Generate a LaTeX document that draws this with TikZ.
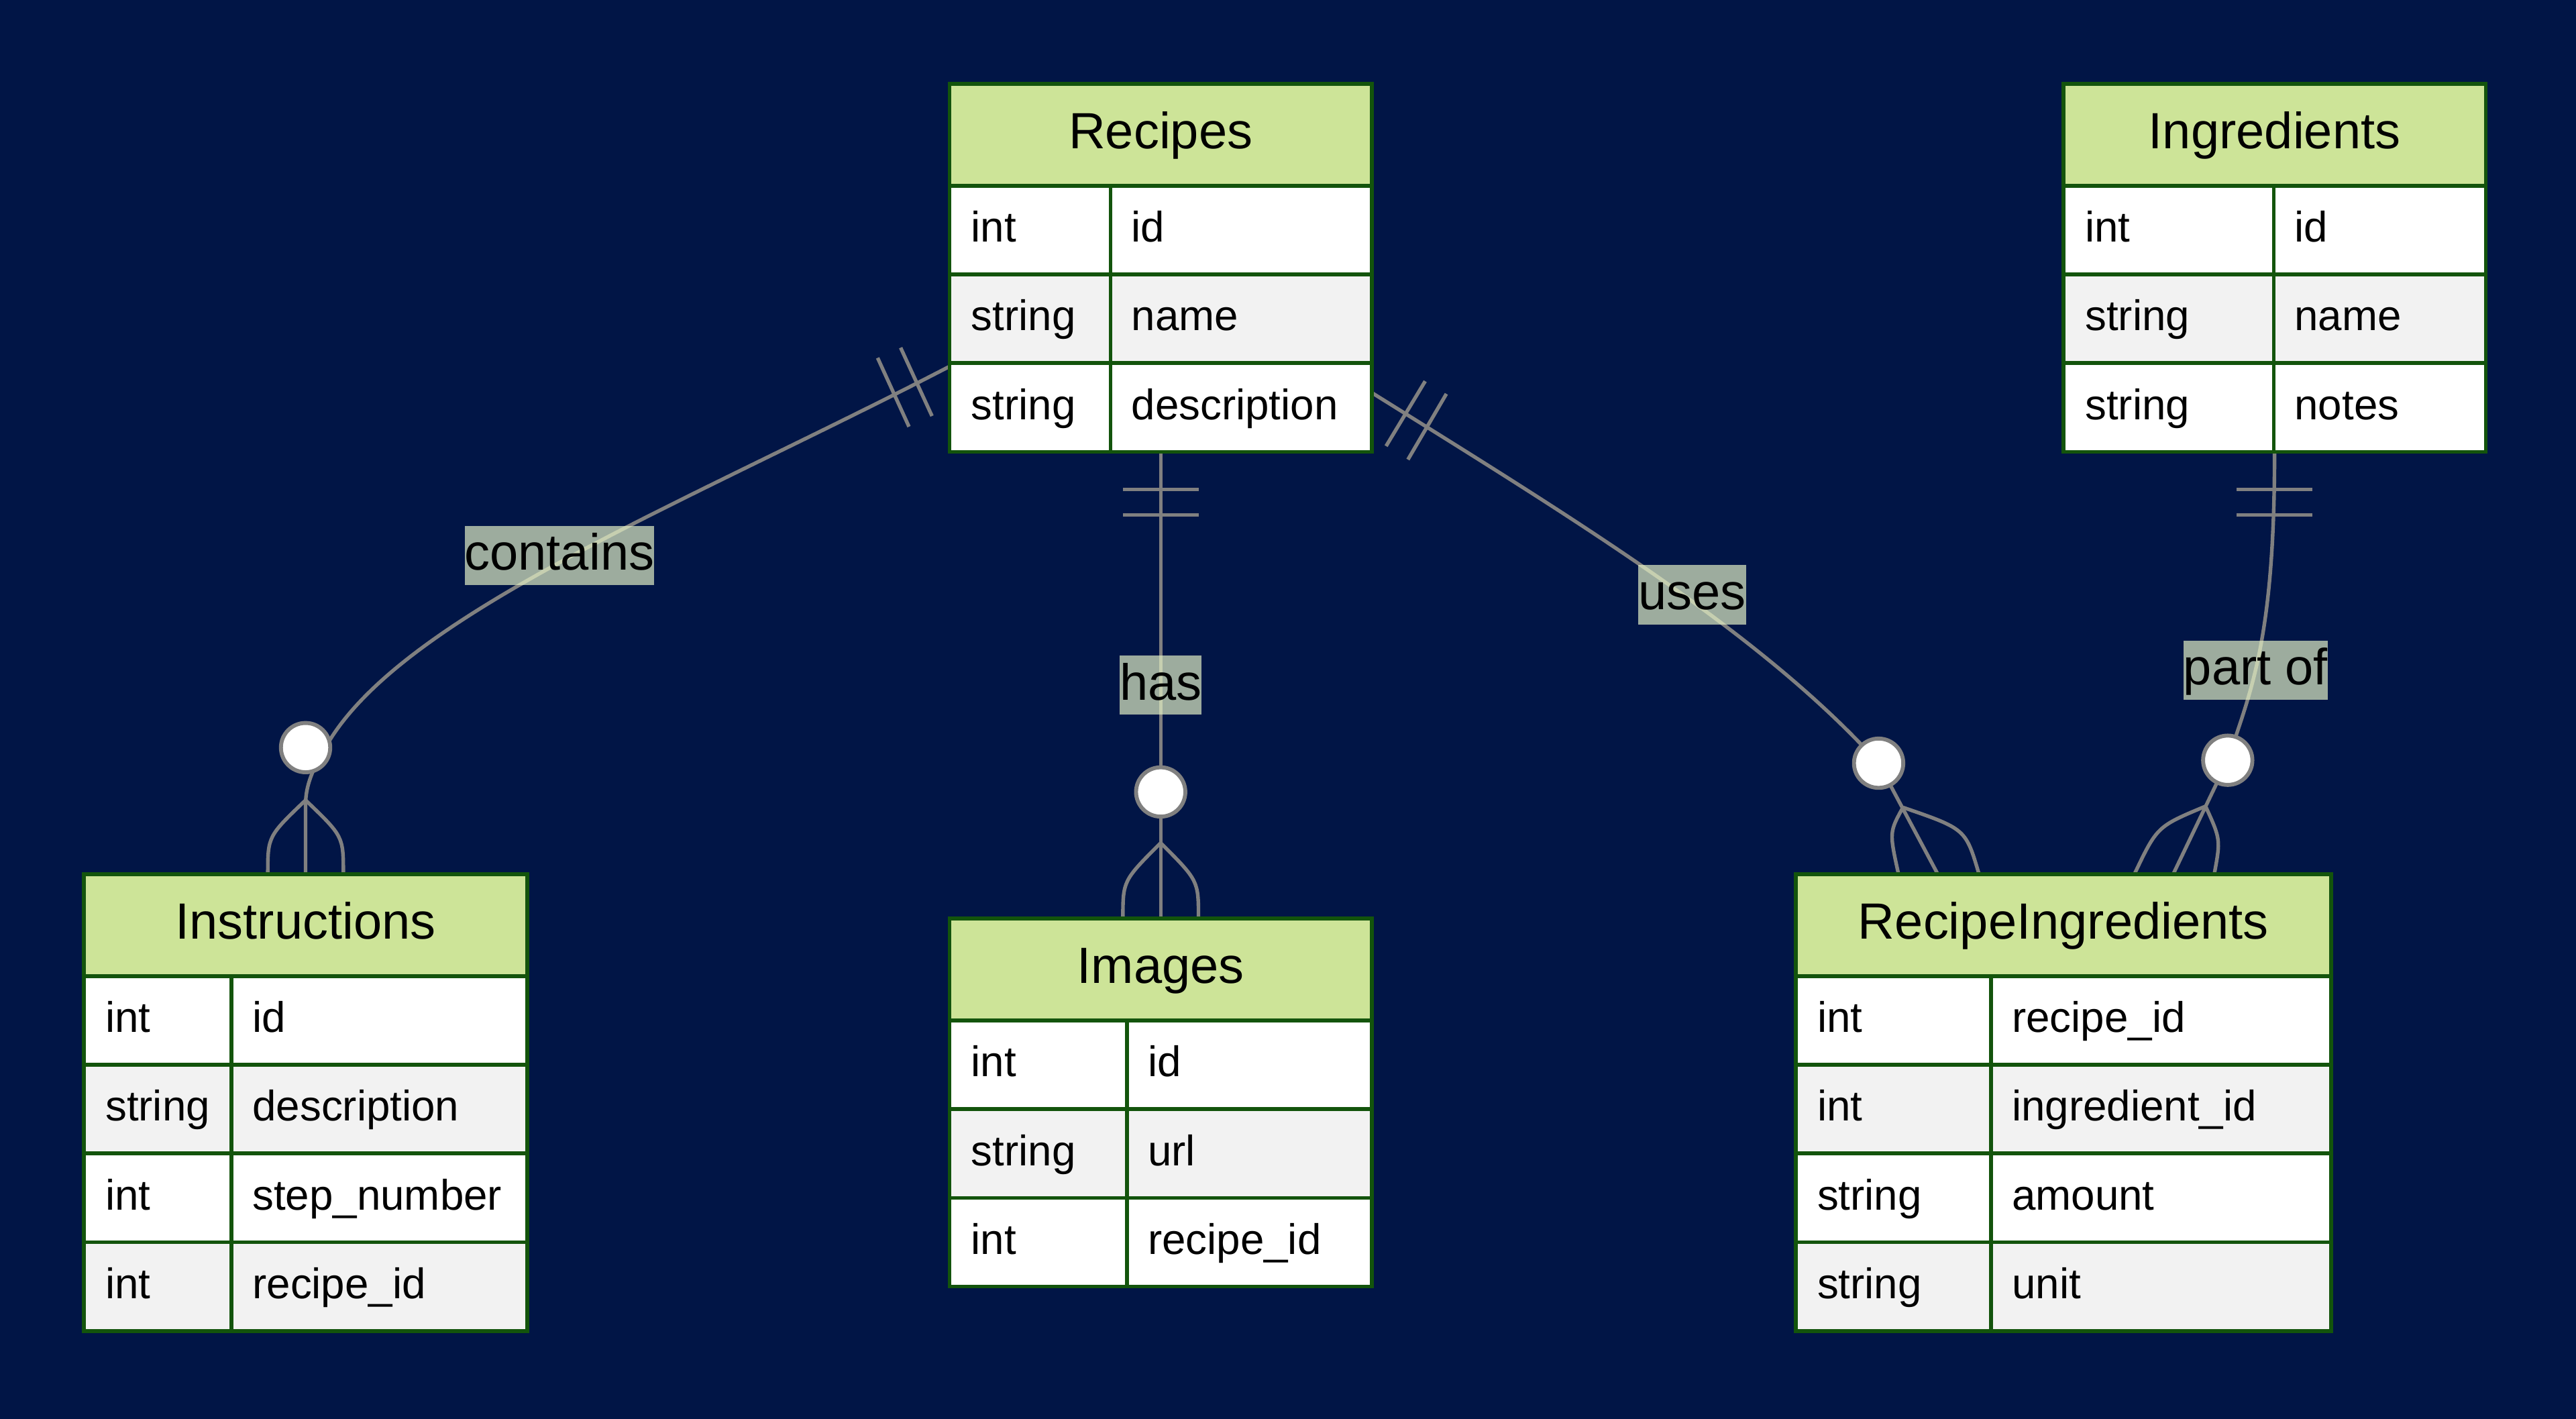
\documentclass[tikz,border=0pt]{standalone}
\usepackage{fontspec}
\setmainfont{Liberation Sans}
\usetikzlibrary{calc}
\pgfdeclarelayer{back}
\pgfdeclarelayer{edges}
\pgfdeclarelayer{marks}
\pgfsetlayers{back,edges,marks,main}
\definecolor{bgnavy}{RGB}{1,21,70}
\definecolor{erhead}{RGB}{205,228,152}
\definecolor{erborder}{RGB}{19,84,12}
\definecolor{rowgray}{RGB}{242,242,242}
\definecolor{linegray}{RGB}{128,128,128}
\definecolor{labelfill}{RGB}{232,245,200}
\tikzset{
  erline/.style={draw=erborder, line width=2.3pt},
  erbox/.style={draw=erborder, line width=2.3pt, inner sep=0pt, outer sep=0pt, fill=none},
  titletext/.style={font=\fontsize{31}{36}\selectfont, text=black, inner sep=0pt, anchor=base},
  attrtext/.style={font=\fontsize{26}{30}\selectfont, text=black, inner sep=0pt, anchor=base west},
  conn/.style={draw=linegray, line width=2.2pt},
  zerocirc/.style={circle, draw=linegray, line width=2.4pt, fill=white, minimum size=30pt, inner sep=0pt},
  elabel/.style={fill=labelfill, fill opacity=0.68, text opacity=1, text=black,
    font=\fontsize{31}{36}\selectfont, inner xsep=0pt, inner ysep=0pt,
    text height=26.9pt, text depth=9.1pt},
}
% #1 name, #2 left, #3 top, #4 width, #5 divider x, #6 height, #7 title, #8 rows
\newcommand{\erentity}[8]{%
  \fill[erhead] (#2,#3) rectangle ({#2+#4},{#3+62});
  \node[titletext] (#1-title) at ({#2+#4/2},{#3+39.6}) {#7};
  \foreach \ty/\nm [count=\i] in {#8} {
    \ifodd\i\relax\def\rowfill{white}\else\def\rowfill{rowgray}\fi
    \fill[fill=\rowfill] (#2,{#3+62+(\i-1)*54}) rectangle ({#2+#4},{#3+62+\i*54});
    \draw[erline] (#2,{#3+62+(\i-1)*54}) -- ({#2+#4},{#3+62+(\i-1)*54});
    \node[attrtext] (#1-t\i) at ({#2+13},{#3+62+(\i-1)*54+34.3}) {\ty};
    \node[attrtext] (#1-n\i) at ({#5+12.5},{#3+62+(\i-1)*54+34.3}) {\nm};
  }
  \draw[erline] (#5,{#3+62}) -- (#5,{#3+#6});
  \node[erbox, minimum width=#4pt, minimum height=#6pt, anchor=north west] (#1) at (#2,#3) {};
}
\begin{document}
\begin{tikzpicture}[x=1pt,y=-1pt]
\useasboundingbox (0,0) rectangle (1568,863.6);
\begin{pgfonlayer}{back}
  \fill[bgnavy] (0,0) rectangle (1568,863.6);
\end{pgfonlayer}

% entities
\erentity{recipes}{578}{51}{257}{676}{224}{Recipes}{int/id, string/name, string/description}
\erentity{ingredients}{1256}{51}{257}{1384}{224}{Ingredients}{int/id, string/name, string/notes}
\erentity{instructions}{51}{532}{270}{141}{278}{Instructions}{int/id, string/description, int/step\_number, int/recipe\_id}
\erentity{images}{578}{559}{257}{686}{224}{Images}{int/id, string/url, int/recipe\_id}
\erentity{recipeingredients}{1093}{532}{326}{1212}{278}{RecipeIngredients}{int/recipe\_id, int/ingredient\_id, string/amount, string/unit}

% connector end points
\coordinate (c1s) at ($(recipes.south west)+(0,-52)$);
\coordinate (c1e) at (instructions.north);
\coordinate (c1j) at ($(instructions.north)+(0,-45)$);
\coordinate (c2j) at ($(images.north)+(0,-46)$);
\coordinate (c3s) at ($(recipes.south east)+(0,-36)$);
\coordinate (c3e) at ($(recipeingredients.north west)+(86.5,0)$);
\coordinate (c3j) at ($(recipeingredients.north west)+(65.3,-40.6)$);
\coordinate (c4s) at (ingredients.south);
\coordinate (c4e) at ($(recipeingredients.north west)+(229.8,0)$);
\coordinate (c4j) at ($(recipeingredients.north west)+(249.5,-41.3)$);

% circles and labels
\begin{pgfonlayer}{marks}
  \node[zerocirc] (c1o) at (186,455) {};
  \node[zerocirc] (c2o) at (706.5,482) {};
  \node[zerocirc] (c3o) at (1143.5,464.5) {};
  \node[zerocirc] (c4o) at (1356,462.7) {};
  \node[elabel] (l1) at (340.5,338) {contains};
  \node[elabel] (l2) at (706.5,417) {has};
  \node[elabel] (l3) at (1030,362) {uses};
  \node[elabel] (l4) at (1373,408) {part of};
\end{pgfonlayer}

% connectors
\begin{pgfonlayer}{edges}
  % contains
  \draw[conn] (c1s) .. controls (420,305) and (250,372) .. (201,450)
     .. controls (190,468) and (186,478) .. (186,490) -- (c1e);
  \draw[conn] (534.2,217.8) -- (553.3,259.7);
  \draw[conn] (548.2,211.6) -- (567.3,253.2);
  \draw[conn] (c1j) .. controls (163,509) .. (163,532);
  \draw[conn] (c1j) .. controls (209,509) .. (209,532);
  % has
  \draw[conn] (recipes.south) -- (images.north);
  \draw[conn] (683.5,298) -- (729.5,298);
  \draw[conn] (683.5,313.5) -- (729.5,313.5);
  \draw[conn] (c2j) .. controls (683.5,536) .. (683.5,559);
  \draw[conn] (c2j) .. controls (729.5,536) .. (729.5,559);
  % uses
  \draw[conn] (c3s) .. controls (960,317) and (1073,386) .. (c3o.center) -- (c3e);
  \draw[conn] (843.7,271.5) -- (867.5,232);
  \draw[conn] (857,279.7) -- (880.4,239.7);
  \draw[conn] (c3j) .. controls (1150,506.5) .. (1155.6,532);
  \draw[conn] (c3j) .. controls (1196.5,504.5) .. (1204.6,532);
  % part of
  \draw[conn] (c4s) .. controls (1384.5,390) and (1370,420) .. (c4o.center) -- (c4e);
  \draw[conn] (1361.5,298) -- (1407.5,298);
  \draw[conn] (1361.5,313.5) -- (1407.5,313.5);
  \draw[conn] (c4j) .. controls (1313,503) .. (1299.2,532);
  \draw[conn] (c4j) .. controls (1351.7,510.9) .. (1347.8,532);
\end{pgfonlayer}
\end{tikzpicture}
\end{document}
